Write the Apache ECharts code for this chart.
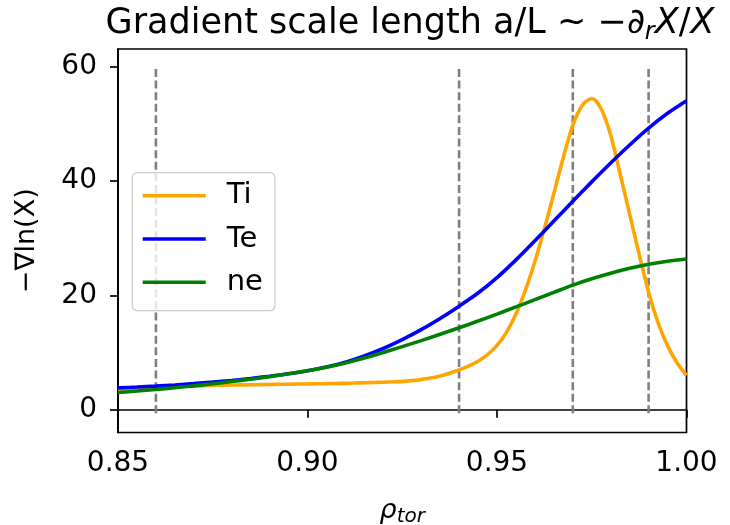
<!DOCTYPE html>
<html>
<head>
<meta charset="utf-8">
<script src="https://cdn.jsdelivr.net/npm/echarts@6/dist/echarts.min.js"></script>
<style>
html,body{margin:0;padding:0;background:#fff;}
#chart{width:730px;height:525px;}
</style>
</head>
<body>
<div id="chart"></div>
<script>
// ---- data ----
const rho = [0.850,0.855,0.860,0.865,0.870,0.875,0.880,0.885,0.890,0.895,
             0.900,0.905,0.910,0.915,0.920,0.925,0.930,0.935,0.940,0.945,
             0.950,0.955,0.960,0.965,0.970,0.975,0.980,0.985,0.990,0.995,1.000];
const te  = [3.8,3.95,4.12,4.32,4.55,4.81,5.11,5.45,5.84,6.28,
             6.8,7.45,8.3,9.4,10.7,12.25,14.0,15.95,18.1,20.4,
             23.1,26.2,29.55,33.0,36.45,39.85,43.15,46.3,49.25,51.85,54.05];
const ne  = [3.0,3.25,3.53,3.83,4.16,4.52,4.91,5.33,5.78,6.27,
             6.8,7.4,8.15,9.03,10.0,11.02,12.08,13.18,14.32,15.5,
             16.72,17.97,19.24,20.52,21.79,22.9,23.87,24.72,25.42,25.97,26.37];
const rhoTi = [0.850,0.8525,0.855,0.8575,0.860,0.8625,0.865,0.8675,0.870,0.8725,
               0.875,0.8775,0.880,0.8825,0.885,0.8875,0.890,0.8925,0.895,0.8975,
               0.900,0.9025,0.905,0.9075,0.910,0.9125,0.915,0.9175,0.920,0.9225,
               0.925,0.9275,0.930,0.9325,0.935,0.9375,0.940,0.9425,0.945,0.9475,
               0.950,0.9525,0.955,0.9575,0.960,0.9625,0.965,0.9675,0.970,0.9725,
               0.975,0.9775,0.980,0.9825,0.985,0.9875,0.990,0.9925,0.995,0.9975,
               1.000];
const ti = [3.5,3.6,3.7,3.8,3.9,3.98,4.05,4.1,4.15,4.2,
            4.25,4.28,4.3,4.33,4.35,4.38,4.4,4.43,4.45,4.48,
            4.5,4.53,4.55,4.58,4.6,4.65,4.7,4.75,4.8,4.87,
            4.95,5.08,5.25,5.52,5.9,6.38,6.95,7.63,8.48,9.63,
            11.23,13.53,16.73,20.93,25.93,31.63,37.83,44.13,49.73,53.23,
            54.43,52.6,48.0,41.2,34.2,27.2,20.6,15.2,11.2,8.2,
            6.0];
const vlinePos = [0.86, 0.94, 0.97, 0.99];
const xTicks = [0.85, 0.90, 0.95, 1.00];
const yTicks = [0, 20, 40, 60];
const yMin = -4.0, yMax = 63.1;
// -------------------------------------

const FONT = 'DejaVu Sans';
const pairs = (xs, ys) => xs.map((x, i) => [x, ys[i]]);
const vY0 = yMin + 0.05 * (yMax - yMin);
const vY1 = yMax - 0.05 * (yMax - yMin);

const vSeries = vlinePos.map((x, i) => ({
  name: 'v' + i,
  type: 'line',
  data: [[x, vY0], [x, vY1]],
  symbol: 'none',
  silent: true,
  lineStyle: { color: '#7f7f7f', width: 2.6, type: [8, 3.6] },
  z: 1
}));

const curve = (name, xs, ys, color) => ({
  name, type: 'line', data: pairs(xs, ys),
  symbol: 'none', smooth: 0.3,
  lineStyle: { color, width: 3.6 }, itemStyle: { color }, z: 3
});

const chart = echarts.init(document.getElementById('chart'), null, { renderer: 'canvas' });
chart.setOption({
  animation: false,
  backgroundColor: '#fff',
  textStyle: { fontFamily: FONT },
  title: {
    text: 'Gradient scale length a/L ~ −{it|∂}{sub|r}{it|X}/{it|X}',
    left: 405, top: -2, textAlign: 'center',
    textStyle: {
      fontFamily: FONT, fontSize: 35, fontWeight: 'normal', color: '#000',
      rich: {
        it: { fontFamily: FONT, fontSize: 35, fontStyle: 'italic', color: '#000' },
        sub: { fontFamily: FONT, fontSize: 24, fontStyle: 'italic', color: '#000', padding: [18, 0, 0, 0] }
      }
    }
  },
  grid: {
    left: 118, right: 43.5, top: 49, bottom: 92.5,
    outerBoundsMode: 'none', containLabel: false,
    show: true, borderColor: '#000', borderWidth: 1.7, backgroundColor: 'transparent'
  },
  legend: {
    data: ['Ti', 'Te', 'ne'],
    orient: 'vertical', left: 132.3, top: 172.7,
    icon: 'rect', itemWidth: 63, itemHeight: 3.6, itemGap: 13.3,
    padding: [8, 12, 13.4, 10.4],
    backgroundColor: 'rgba(255,255,255,0.8)',
    borderColor: '#cccccc', borderWidth: 1.3, borderRadius: 5,
    textStyle: { fontFamily: FONT, fontSize: 29, color: '#000', lineHeight: 30, padding: [0, 0, 0, 16] }
  },
  xAxis: {
    type: 'value', min: 0.85, max: 1.0,
    name: '{it|ρ}{sub|tor}', nameLocation: 'middle', nameGap: 63,
    nameTextStyle: {
      fontFamily: FONT, fontSize: 27, color: '#000',
      rich: {
        it: { fontFamily: FONT, fontSize: 27, fontStyle: 'italic', color: '#000' },
        sub: { fontFamily: FONT, fontSize: 20, fontStyle: 'italic', color: '#000', padding: [11, 0, 0, 0] }
      }
    },
    axisLine: { show: true, lineStyle: { color: '#000', width: 1.7 } },
    axisTick: { show: true, inside: false, length: 8, lineStyle: { color: '#000', width: 1.7 }, customValues: xTicks },
    axisLabel: { customValues: xTicks, margin: 17, fontFamily: FONT, fontSize: 28, color: '#000',
                 formatter: v => v.toFixed(2) },
    splitLine: { show: false }
  },
  yAxis: {
    type: 'value', min: yMin, max: yMax,
    name: '−∇ln(X)', nameLocation: 'middle', nameGap: 78, nameRotate: 90,
    nameTextStyle: { fontFamily: FONT, fontSize: 27, color: '#000' },
    axisLine: { show: true, lineStyle: { color: '#000', width: 1.7 } },
    axisTick: { show: true, inside: false, length: 8, lineStyle: { color: '#000', width: 1.7 }, customValues: yTicks },
    axisLabel: { customValues: yTicks, margin: 21, fontFamily: FONT, fontSize: 28, color: '#000',
                 formatter: v => String(v) },
    splitLine: { show: false }
  },
  series: [
    ...vSeries,
    curve('Ti', rhoTi, ti, '#FFA500'),
    curve('Te', rho, te, '#0000FF'),
    curve('ne', rho, ne, '#008000')
  ]
});
</script>
</body>
</html>
